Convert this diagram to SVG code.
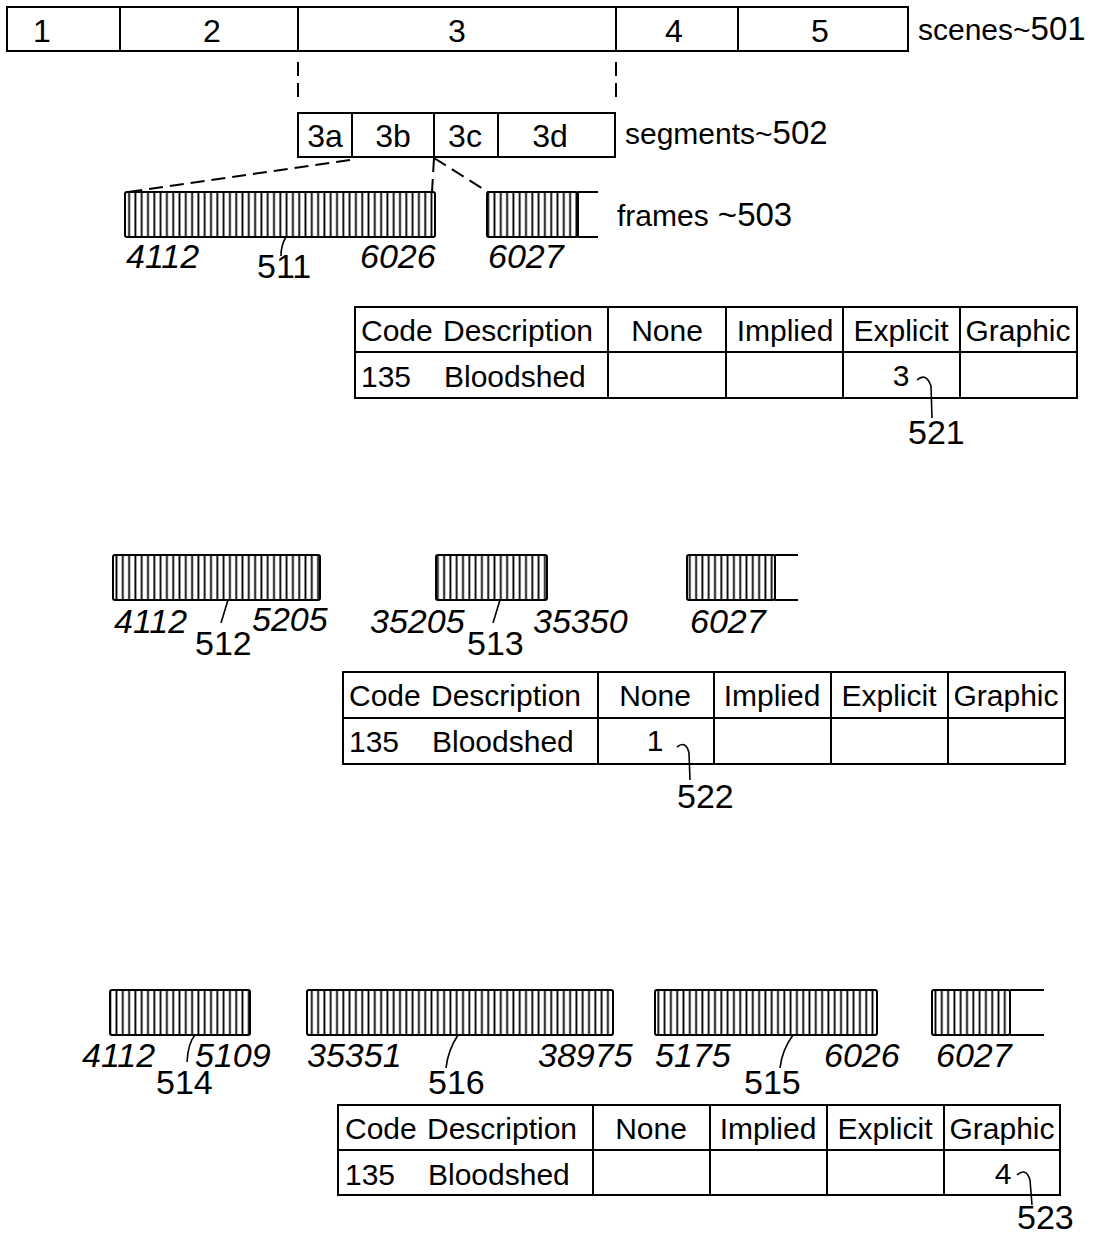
<svg xmlns="http://www.w3.org/2000/svg" width="1115" height="1237" viewBox="0 0 1115 1237">
<style>
text{font-family:"Liberation Sans",Arial,sans-serif;fill:#000}
.t{font-size:30px}
.s{font-size:32px}
.c{text-anchor:middle}
.i{font-size:34px;font-style:italic}
.r{font-size:34px}
.box{fill:#fff;stroke:#000;stroke-width:2}
.ln{fill:none;stroke:#000;stroke-width:2}
.strip{fill:url(#stripes);stroke:#000;stroke-width:2}
.dash{fill:none;stroke:#000;stroke-width:2;stroke-dasharray:14 7}
.lead{fill:none;stroke:#000;stroke-width:1.6}
</style>
<defs>
<pattern id="stripes" x="0" y="0" width="6.3" height="20" patternUnits="userSpaceOnUse">
<rect width="6.3" height="20" fill="#fff"/>
<line x1="3.1" y1="0" x2="3.1" y2="20" stroke="#000" stroke-width="1.8"/>
</pattern>
</defs>
<rect width="1115" height="1237" fill="#fff"/>

<g id="scenes">
<rect class="box" x="7" y="7" width="901" height="44"/>
<path class="ln" d="M120,7V51M298,7V51M616,7V51M738,7V51"/>
<text class="s c" x="42" y="42">1</text>
<text class="s c" x="212" y="42">2</text>
<text class="s c" x="457" y="42">3</text>
<text class="s c" x="674" y="42">4</text>
<text class="s c" x="820" y="42">5</text>
<text x="918" y="40" font-size="30">scenes~<tspan font-size="33">501</tspan></text>
</g>

<g id="segments">
<rect class="box" x="298" y="113" width="317" height="44"/>
<path class="ln" d="M352,113V157M434,113V157M498,113V157"/>
<text class="s c" x="325" y="147">3a</text>
<text class="s c" x="393" y="147">3b</text>
<text class="s c" x="465" y="147">3c</text>
<text class="s c" x="550" y="147">3d</text>
<text x="625" y="144" font-size="30">segments~<tspan font-size="33">502</tspan></text>
</g>

<g id="frames1">
<rect class="strip" x="125" y="192" width="310" height="45" rx="2"/>
<rect class="strip" x="487" y="192" width="91" height="45" rx="2"/>
<path class="ln" d="M578,192H598M578,237H598"/>
<text x="617" y="226" font-size="30">frames<tspan font-size="33"> ~503</tspan></text>
<text class="i" x="126" y="268">4112</text>
<text class="r" x="257" y="278">511</text>
<text class="i" x="360" y="268">6026</text>
<text class="i" x="488" y="268">6027</text>
</g>

<g id="table1">
<rect class="box" x="355" y="307" width="722" height="91"/>
<path class="ln" d="M355,352H1077M608,307V398M726,307V398M843,307V398M960,307V398"/>
<text class="t" x="361" y="341">Code</text>
<text class="t" x="443" y="341">Description</text>
<text class="t c" x="667" y="341">None</text>
<text class="t c" x="785" y="341">Implied</text>
<text class="t c" x="901" y="341">Explicit</text>
<text class="t c" x="1018" y="341">Graphic</text>
<text class="t" x="361" y="387">135</text>
<text class="t" x="444" y="387">Bloodshed</text>
<text class="t c" x="901" y="386">3</text>
<text class="r" x="908" y="444">521</text>
</g>

<g id="frames2">
<rect class="strip" x="113" y="555" width="207" height="45" rx="2"/>
<rect class="strip" x="436" y="555" width="111" height="45" rx="2"/>
<rect class="strip" x="687" y="555" width="88" height="45" rx="2"/>
<path class="ln" d="M775,555H798M775,600H798"/>
<text class="i" x="114" y="633">4112</text>
<text class="r" x="195" y="655">512</text>
<text class="i" x="252" y="631">5205</text>
<text class="i" x="370" y="633">35205</text>
<text class="r" x="467" y="655">513</text>
<text class="i" x="533" y="633">35350</text>
<text class="i" x="690" y="633">6027</text>
</g>

<g id="table2">
<rect class="box" x="343" y="672" width="722" height="92"/>
<path class="ln" d="M343,718H1065M598,672V764M714,672V764M831,672V764M948,672V764"/>
<text class="t" x="349" y="706">Code</text>
<text class="t" x="431" y="706">Description</text>
<text class="t c" x="655" y="706">None</text>
<text class="t c" x="772" y="706">Implied</text>
<text class="t c" x="889" y="706">Explicit</text>
<text class="t c" x="1006" y="706">Graphic</text>
<text class="t" x="349" y="752">135</text>
<text class="t" x="432" y="752">Bloodshed</text>
<text class="t c" x="655" y="751">1</text>
<text class="r" x="677" y="808">522</text>
</g>

<g id="frames3">
<rect class="strip" x="110" y="990" width="140" height="45" rx="2"/>
<rect class="strip" x="307" y="990" width="306" height="45" rx="2"/>
<rect class="strip" x="655" y="990" width="222" height="45" rx="2"/>
<rect class="strip" x="932" y="990" width="78" height="45" rx="2"/>
<path class="ln" d="M1010,990H1044M1010,1035H1044"/>
<text class="i" x="82" y="1067">4112</text>
<text class="r" x="156" y="1094">514</text>
<text class="i" x="195" y="1067">5109</text>
<text class="i" x="307" y="1067">35351</text>
<text class="r" x="428" y="1094">516</text>
<text class="i" x="538" y="1067">38975</text>
<text class="i" x="655" y="1067">5175</text>
<text class="r" x="744" y="1094">515</text>
<text class="i" x="824" y="1067">6026</text>
<text class="i" x="936" y="1067">6027</text>
</g>

<g id="table3">
<rect class="box" x="338" y="1105" width="722" height="90"/>
<path class="ln" d="M338,1150H1060M593,1105V1195M710,1105V1195M827,1105V1195M944,1105V1195"/>
<text class="t" x="345" y="1139">Code</text>
<text class="t" x="427" y="1139">Description</text>
<text class="t c" x="651" y="1139">None</text>
<text class="t c" x="768" y="1139">Implied</text>
<text class="t c" x="885" y="1139">Explicit</text>
<text class="t c" x="1002" y="1139">Graphic</text>
<text class="t" x="345" y="1185">135</text>
<text class="t" x="428" y="1185">Bloodshed</text>
<text class="t c" x="1003" y="1184">4</text>
<text class="r" x="1017" y="1229">523</text>
</g>

<g id="connectors">
<path class="dash" d="M298,62V102M616,62V102"/>
<path class="dash" d="M350,160L128,192"/>
<path class="dash" d="M434,158L432,192"/>
<path class="dash" d="M434,158L488,192"/>
<path class="lead" d="M286,237Q281,245 281,256"/>
<path class="lead" d="M917,380Q926,372 931,386L932,418"/>
<path class="lead" d="M228,600L221,623"/>
<path class="lead" d="M500,600L493,623"/>
<path class="lead" d="M677,747Q686,740 689,753L690,780"/>
<path class="lead" d="M195,1035Q188,1043 187,1062"/>
<path class="lead" d="M458,1035Q448,1050 446,1068"/>
<path class="lead" d="M793,1035Q782,1050 780,1068"/>
<path class="lead" d="M1017,1175Q1026,1167 1030,1180L1032,1205"/>
</g>
</svg>
